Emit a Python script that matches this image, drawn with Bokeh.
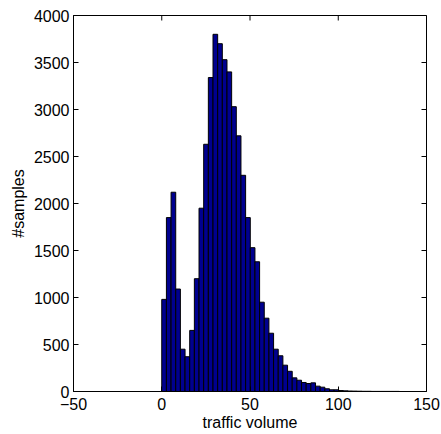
import math
from bokeh.plotting import figure
from bokeh.models import FixedTicker, Range1d
from bokeh.embed import file_html
from bokeh.resources import INLINE

# Histogram data
bin_start = 0.0
bin_width = 2.64
counts = [980, 1850, 2120, 1090, 450, 370, 650, 1200, 1950, 2630,
          3340, 3800, 3700, 3530, 3400, 3030, 2720, 2300, 1850, 1530,
          1380, 950, 780, 620, 450, 380, 280, 215, 145, 120,
          96, 85, 92, 57, 46, 29, 18, 18, 10, 7,
          5, 4, 3, 2, 2, 1, 1, 1, 1, 1, 1]
x_ticks = [-50, 0, 50, 100, 150]
y_ticks = [0, 500, 1000, 1500, 2000, 2500, 3000, 3500, 4000]
x_min, x_max = -50, 150
y_min, y_max = 0, 4000

lefts = [bin_start + i * bin_width for i in range(len(counts))]
rights = [l + bin_width for l in lefts]

FONT = "Liberation Sans"
FS = "16px"

p = figure(width=441, height=434, output_backend="svg", toolbar_location=None,
           x_range=Range1d(x_min, x_max), y_range=Range1d(y_min, y_max),
           min_border_left=73, min_border_right=15, min_border_top=15,
           min_border_bottom=43, background_fill_color="white",
           border_fill_color="white")
p.grid.visible = False
p.outline_line_color = "black"
p.outline_line_width = 1

p.quad(left=lefts, right=rights, bottom=0, top=counts,
       fill_color="#00008F", line_color="black", line_width=1)

# inward ticks on the right and top edges of the box
p.scatter(x=[x_max] * len(y_ticks), y=y_ticks, marker="dash", size=10,
          line_color="black", line_width=1)
p.scatter(x=x_ticks, y=[y_max] * len(x_ticks), marker="dash", size=10,
          angle=math.pi / 2, line_color="black", line_width=1)

for ax in p.xaxis + p.yaxis:
    ax.major_tick_in = 5
    ax.major_tick_out = 0
    ax.minor_tick_in = 0
    ax.minor_tick_out = 0
    ax.axis_line_color = "black"
    ax.major_label_text_font = FONT
    ax.major_label_text_font_size = FS
    ax.major_label_text_color = "black"
    ax.axis_label_text_font = FONT
    ax.axis_label_text_font_size = FS
    ax.axis_label_text_font_style = "normal"
    ax.axis_label_text_color = "black"

p.xaxis.ticker = FixedTicker(ticks=x_ticks)
p.yaxis.ticker = FixedTicker(ticks=y_ticks)
p.xaxis.major_label_overrides = {t: str(t).replace("-", "\u2212") for t in x_ticks}
p.xaxis.axis_label = "traffic volume"
p.yaxis.axis_label = "#samples"
p.xaxis.major_label_standoff = 6
p.yaxis.major_label_standoff = 4
p.xaxis.axis_label_standoff = 1
p.yaxis.axis_label_standoff = 4

open("out.html", "w").write(file_html(p, INLINE))
